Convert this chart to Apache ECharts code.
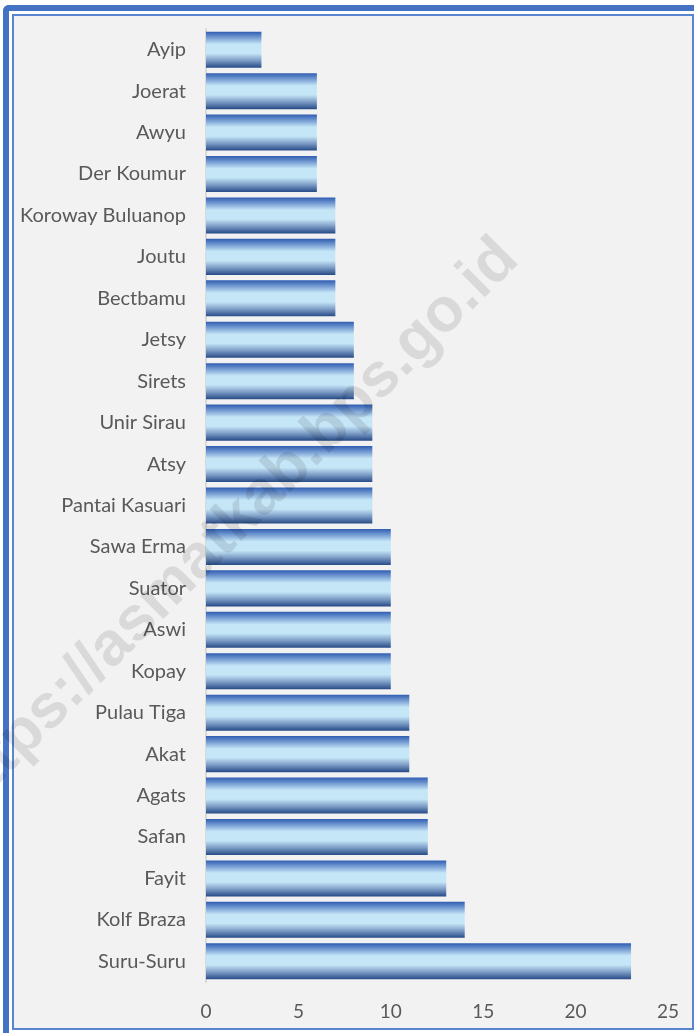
<!DOCTYPE html>
<html>
<head>
<meta charset="utf-8">
<script src="https://cdn.jsdelivr.net/npm/echarts@6/dist/echarts.min.js"></script>
<style>
    html, body { margin: 0; padding: 0; background: #ffffff; }
    #outer {
        position: absolute; left: 3px; top: 5px; width: 691px; height: 1028px;
        border-top: 6px solid #4472c4; border-left: 6px solid #4472c4;
        border-top-left-radius: 6px; box-sizing: border-box;
    }
    #inner {
        position: absolute; left: 12px; top: 14px; width: 682px; height: 1016px;
        border: 2px solid #5b84d0; background: #f2f2f2; box-sizing: border-box;
    }
    #main { position: absolute; left: 0; top: 0; width: 694px; height: 1033px; }
</style>
</head>
<body>
<div id="outer"></div>
<div id="inner"></div>
<div id="main"></div>
<script>
    // 分类（从上到下）
    const categories = ['Ayip', 'Joerat', 'Awyu', 'Der Koumur', 'Koroway Buluanop', 'Joutu', 'Bectbamu',
        'Jetsy', 'Sirets', 'Unir Sirau', 'Atsy', 'Pantai Kasuari', 'Sawa Erma', 'Suator', 'Aswi',
        'Kopay', 'Pulau Tiga', 'Akat', 'Agats', 'Safan', 'Fayit', 'Kolf Braza', 'Suru-Suru'];
    const values = [3, 6, 6, 6, 7, 7, 7, 8, 8, 9, 9, 9, 10, 10, 10, 10, 11, 11, 12, 12, 13, 14, 23];
    const watermark = 'https://asmatkab.bps.go.id';

    const myChart = echarts.init(document.getElementById('main'));
    const barGradient = new echarts.graphic.LinearGradient(0, 0, 0, 1, [
        {offset: 0, color: '#2f5db2'},
        {offset: 0.15, color: '#6f96cf'},
        {offset: 0.35, color: '#c5e6f7'},
        {offset: 0.6, color: '#c5e6f7'},
        {offset: 0.8, color: '#7c9cc6'},
        {offset: 1, color: '#264a86'}
    ]);

    const option = {
        backgroundColor: 'transparent',
        animation: false,
        textStyle: {fontFamily: 'Lato'},
        grid: {left: 206, right: 26, top: 29, bottom: 51},
        xAxis: {
            type: 'value',
            min: 0,
            max: 25,
            interval: 5,
            axisLine: {show: false},
            axisTick: {show: false},
            splitLine: {show: false},
            axisLabel: {color: '#595959', fontSize: 19, margin: 20}
        },
        yAxis: {
            type: 'category',
            inverse: true,
            data: categories,
            axisLine: {show: true, lineStyle: {color: '#d9d9d9', width: 2}},
            axisTick: {show: false},
            axisLabel: {color: '#595959', fontSize: 20, margin: 20}
        },
        series: [
            {
                type: 'bar',
                data: values,
                barCategoryGap: '13%',
                itemStyle: {color: barGradient}
            }
        ],
        // 水印
        graphic: [
            {
                type: 'text',
                x: 231,
                y: 527,
                rotation: Math.PI / 4,
                z: 100,
                style: {
                    text: watermark,
                    font: 'bold 62px "Liberation Sans"',
                    fill: 'rgba(0,0,0,0.1)',
                    align: 'center',
                    verticalAlign: 'middle'
                }
            }
        ]
    };
    myChart.setOption(option);
</script>
</body>
</html>
